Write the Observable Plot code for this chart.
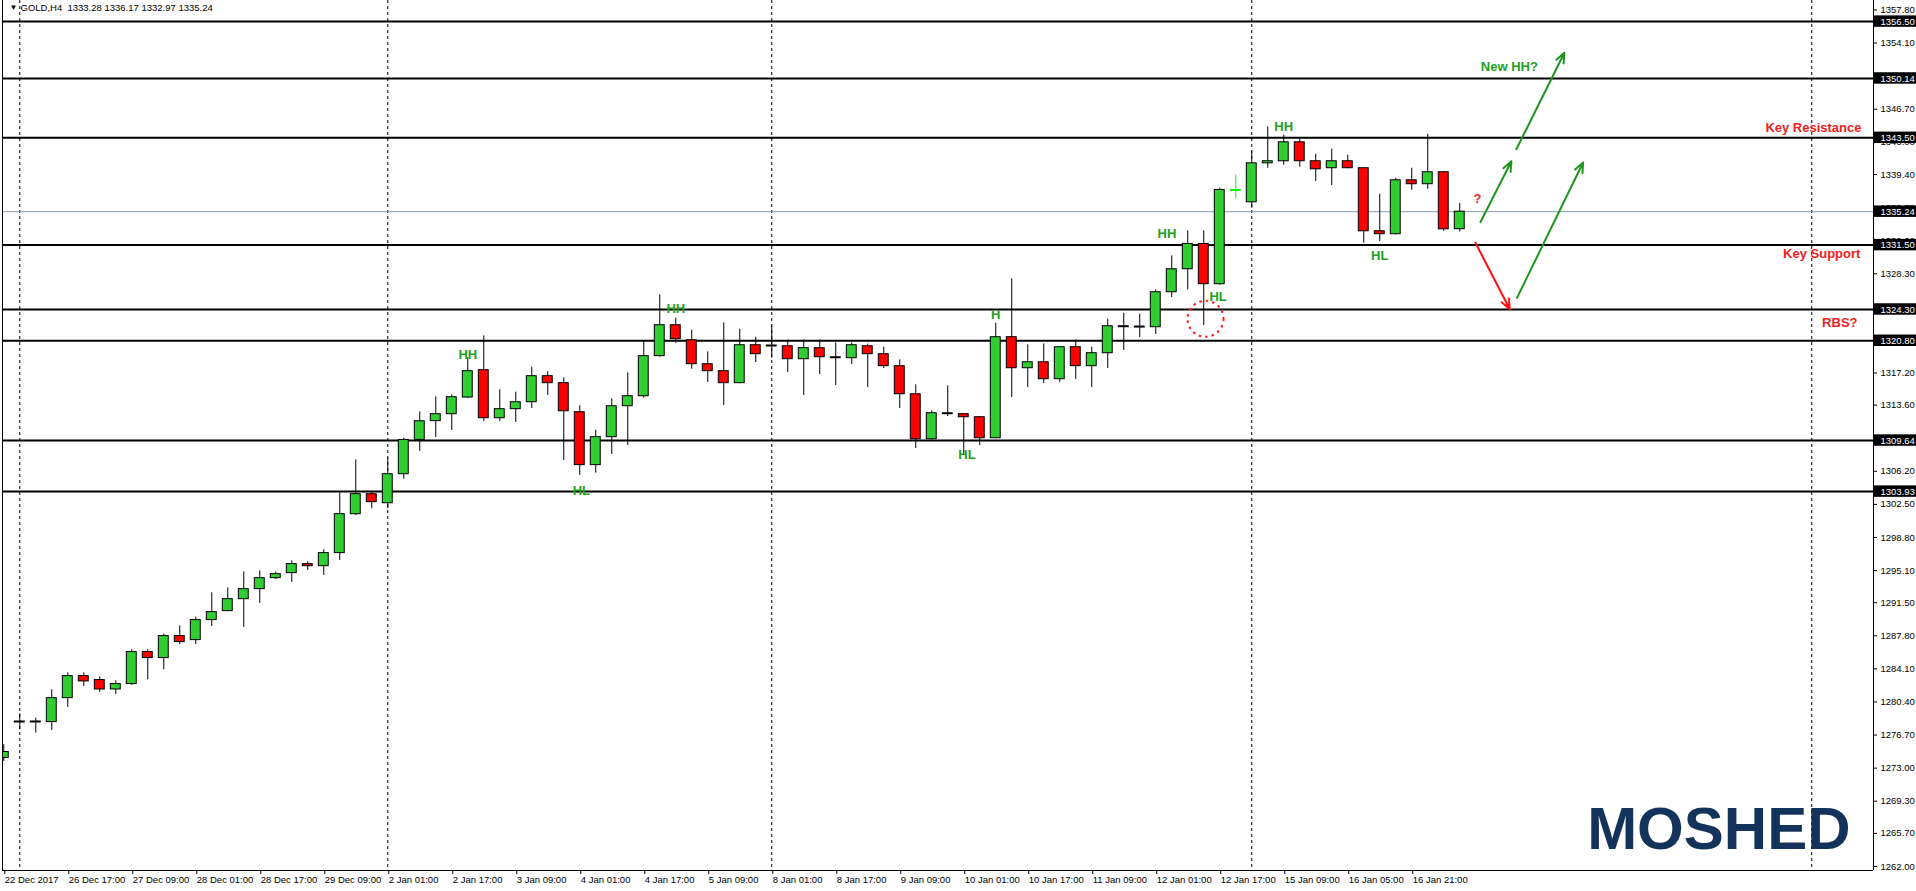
<!DOCTYPE html>
<html><head><meta charset="utf-8">
<script src="https://cdn.jsdelivr.net/npm/d3@7"></script>
<script src="https://cdn.jsdelivr.net/npm/@observablehq/plot@0.6"></script>
<style>body{margin:0;background:#fff;} svg{display:block}</style>
</head><body><div id="chart"></div>
<script>
// ---- data (bar index, prices) ----
const opens = [1274.13,1278.20,1278.21,1278.15,1280.83,1283.29,1282.85,1281.80,1282.40,1285.98,
1285.31,1287.77,1287.32,1289.56,1290.56,1291.90,1293.02,1294.25,1294.81,1295.82,
1295.59,1297.05,1301.40,1303.64,1302.63,1305.88,1309.71,1311.81,1312.59,1314.45,
1317.51,1312.14,1313.15,1313.93,1316.84,1316.06,1312.81,1306.89,1310.02,1313.48,
1314.60,1319.08,1322.54,1320.86,1318.18,1317.40,1316.06,1320.30,1320.26,1320.19,
1318.74,1319.97,1318.95,1318.85,1320.19,1319.30,1317.96,1314.82,1309.79,1312.69,
1312.59,1312.25,1309.90,1321.20,1317.73,1318.40,1316.50,1320.08,1317.96,1319.41,
1322.42,1322.36,1322.32,1326.23,1328.80,1331.63,1327.13,1337.67,1336.29,1340.65,
1340.88,1343.00,1340.88,1340.10,1340.88,1340.10,1333.05,1332.72,1338.75,1338.31,
1339.65,1333.28];
const highs = [1275.62,1279.08,1278.60,1281.77,1283.67,1283.67,1283.22,1282.77,1286.24,1286.24,
1287.99,1288.92,1289.89,1292.61,1293.17,1294.96,1295.07,1294.92,1296.19,1296.08,
1297.42,1303.79,1307.48,1303.94,1307.67,1309.90,1312.85,1314.53,1314.75,1318.89,
1321.35,1315.31,1315.05,1317.84,1317.32,1316.65,1313.52,1310.80,1314.30,1317.21,
1320.83,1325.93,1323.32,1321.98,1319.56,1322.80,1322.09,1321.20,1322.43,1320.86,
1320.90,1320.90,1320.56,1320.56,1320.42,1320.08,1318.66,1315.87,1312.96,1315.76,
1312.62,1312.28,1322.76,1327.72,1320.34,1320.45,1320.10,1320.90,1320.08,1323.21,
1323.88,1323.77,1326.49,1330.29,1333.09,1333.09,1337.86,1339.35,1342.03,1344.72,
1343.79,1343.34,1341.66,1342.22,1341.55,1340.15,1337.19,1338.98,1340.10,1343.90,
1339.70,1336.17];
const lows = [1273.75,1277.29,1276.92,1277.22,1279.79,1282.14,1281.47,1281.24,1282.25,1282.88,
1284.00,1286.83,1286.83,1288.85,1290.50,1288.73,1291.42,1294.10,1293.77,1295.11,
1294.55,1296.23,1301.25,1302.00,1302.00,1305.32,1308.42,1309.98,1310.76,1314.34,
1311.77,1311.77,1311.66,1313.22,1314.68,1307.41,1305.73,1305.99,1308.08,1309.09,
1314.38,1318.96,1320.53,1317.62,1316.13,1313.56,1316.00,1318.37,1318.85,1317.25,
1314.68,1317.02,1315.79,1318.14,1315.57,1317.70,1313.22,1308.75,1309.70,1312.33,
1308.04,1309.08,1309.85,1314.45,1315.57,1316.02,1316.13,1316.46,1315.57,1317.70,
1319.71,1321.16,1321.50,1325.63,1326.49,1322.50,1327.01,1336.67,1335.62,1340.10,
1340.43,1340.21,1338.60,1338.16,1340.05,1331.71,1331.90,1332.65,1337.64,1337.75,
1333.05,1332.97];
const closes = [1274.80,1278.23,1278.23,1280.83,1283.29,1282.70,1281.80,1282.40,1285.98,1285.31,
1287.77,1287.10,1289.56,1290.45,1291.90,1293.02,1294.25,1294.70,1295.82,1295.59,
1297.05,1301.41,1303.64,1302.75,1305.88,1309.71,1311.80,1312.59,1314.49,1317.40,
1312.14,1313.15,1313.93,1316.84,1316.06,1312.92,1306.89,1310.02,1313.48,1314.60,
1319.08,1322.54,1320.98,1318.18,1317.40,1316.06,1320.30,1319.30,1320.28,1318.74,
1319.97,1318.96,1318.97,1320.30,1319.30,1317.96,1314.82,1309.79,1312.70,1312.71,
1312.25,1309.90,1321.20,1317.73,1318.40,1316.50,1320.08,1317.96,1319.41,1322.43,
1322.44,1322.42,1326.23,1328.80,1331.63,1327.13,1337.67,1337.67,1340.65,1340.88,
1343.00,1340.88,1339.98,1340.88,1340.10,1333.05,1332.72,1338.75,1338.31,1339.65,
1333.27,1335.24];

const xTickIndex = [0,4,8,12,16,20,24,28,32,36,40,44,48,52,56,60,64,68,72,76,80,84,88];
const xTickLabels = ["22 Dec 2017","26 Dec 17:00","27 Dec 09:00","28 Dec 01:00","28 Dec 17:00","29 Dec 09:00",
"2 Jan 01:00","2 Jan 17:00","3 Jan 09:00","4 Jan 01:00","4 Jan 17:00","5 Jan 09:00","8 Jan 01:00",
"8 Jan 17:00","9 Jan 09:00","10 Jan 01:00","10 Jan 17:00","11 Jan 09:00","12 Jan 01:00","12 Jan 17:00",
"15 Jan 09:00","16 Jan 05:00","16 Jan 21:00"];
const yTicks = [1357.80,1354.10,1350.40,1346.70,1343.00,1339.40,1335.70,1332.00,1328.30,1324.60,1320.90,
1317.20,1313.60,1309.90,1306.20,1302.50,1298.80,1295.10,1291.50,1287.80,1284.10,1280.40,1276.70,
1273.00,1269.30,1265.70,1262.00];
const levels = [1356.50,1350.14,1343.50,1331.50,1324.30,1320.80,1309.64,1303.93];
const bidPrice = 1335.24;
const separators = [1,24,48,78,113];

const noteText  = ["HH","HH","HL","H","HL","HH","HL","HH","HL","?","New HH?"];
const noteIndex = [29.0,42.0,36.1,62.0,60.2,72.7,75.9,80.0,86.0,92.1,94.1];
const notePrice = [1319.18,1324.41,1303.97,1323.70,1308.08,1332.80,1325.75,1344.69,1330.26,1336.63,1351.40];
const noteKind  = ["up","up","up","up","up","up","up","up","up","down","up"];

const sideText  = ["Key Resistance","Key Support","RBS?"];
const sideIndex = [116.11,116.04,115.86];
const sidePrice = [1344.58,1330.48,1322.76];

const arrowKind = ["up","up","down","up"];
const arrowFromIndex = [92.29,94.54,91.98,94.58];
const arrowFromPrice = [1334.06,1342.23,1331.76,1325.60];
const arrowToIndex   = [94.23,97.54,94.13,98.71];
const arrowToPrice   = [1340.88,1353.01,1324.33,1340.74];

const circleIndex = [75.11];
const circlePrice = [1323.26];

// ---- layout / style ----
const X0 = -0.08, X1 = 116.86, Y0 = 1261.55, Y1 = 1358.86;
const GREEN_TXT = "#22a022", RED_TXT = "#f22020";
const font = "'Liberation Sans', Arial, sans-serif";
const AX = 9.5;

const candles = opens.map((o, i) => ({i, o, h: highs[i], l: lows[i], c: closes[i]}));
const bodies = candles.filter(d => Math.abs(d.c - d.o) >= 0.12);
const flats = candles.filter(d => Math.abs(d.c - d.o) < 0.12);
const notes = noteText.map((t, k) => ({t, x: noteIndex[k], y: notePrice[k], k: noteKind[k]}));
const sides = sideText.map((t, k) => ({t, x: sideIndex[k], y: sidePrice[k]}));
const arrows = arrowKind.map((k, j) => ({k, x1: arrowFromIndex[j], y1: arrowFromPrice[j], x2: arrowToIndex[j], y2: arrowToPrice[j]}));
const circles = circleIndex.map((x, j) => ({x, y: circlePrice[j]}));
const tags = [...levels, bidPrice];
const last = candles[candles.length - 1];
const header = `GOLD,H4  ${last.o.toFixed(2)} ${last.h.toFixed(2)} ${last.l.toFixed(2)} ${last.c.toFixed(2)}`;
const labelOf = new Map(xTickIndex.map((v, k) => [v, xTickLabels[k]]));

const chart = Plot.plot({
  width: 1916, height: 891,
  marginLeft: 2, marginRight: 43, marginTop: 0, marginBottom: 21,
  x: {domain: [X0, X1]},
  y: {domain: [Y0, Y1]},
  color: {type: "identity"},
  style: {fontFamily: font, fontSize: AX + "px", background: "#fff", color: "#000"},
  marks: [
    Plot.ruleX(separators, {stroke: "#000", strokeWidth: 1, strokeDasharray: "3,3"}),
    Plot.ruleY(levels, {stroke: "#000", strokeWidth: 2}),
    Plot.ruleY([bidPrice], {stroke: "#8c9aa8", strokeWidth: 1}),
    Plot.ruleX(candles, {x: "i", y1: "l", y2: "h", stroke: d => d.o === d.c ? "#00ff00" : "#000", strokeWidth: 1, clip: true}),
    Plot.rect(bodies, {x1: d => d.i - 0.31, x2: d => d.i + 0.31, y1: "o", y2: "c",
      fill: d => d.c > d.o ? "#32CD32" : "#FF0000", stroke: "#000", strokeWidth: 1, clip: true}),
    Plot.ruleY(flats, {y: d => (d.o + d.c) / 2, x1: d => d.i - 0.34, x2: d => d.i + 0.34,
      stroke: d => d.o === d.c ? "#00ff00" : "#000", strokeWidth: 2, clip: true}),
    Plot.axisX({ticks: xTickIndex, tickFormat: v => labelOf.get(v), tickSize: 4, tickPadding: 2,
      textAnchor: "start", dx: 1, label: null, fontSize: AX}),
    Plot.axisY({anchor: "right", ticks: yTicks, tickFormat: v => v.toFixed(2), tickSize: 3, tickPadding: 4,
      label: null, fontSize: AX}),
    Plot.ruleX([X0, X1], {stroke: "#000", strokeWidth: 1}),
    Plot.ruleY([Y0], {stroke: "#000", strokeWidth: 1}),
    Plot.rect(tags, {x1: () => X1 + 0.06, x2: () => X1 + 2.8, y1: d => d - 0.64, y2: d => d + 0.64, fill: "#000"}),
    Plot.text(tags, {x: () => X1, y: d => d, text: d => d.toFixed(2), dx: 7, textAnchor: "start", fill: "#fff", fontSize: AX}),
    Plot.text(notes, {x: "x", y: "y", text: "t", fill: d => d.k === "up" ? GREEN_TXT : RED_TXT,
      fontSize: 13, fontWeight: "bold", fontFamily: font}),
    Plot.text(sides, {x: "x", y: "y", text: "t", fill: RED_TXT, textAnchor: "end",
      fontSize: 13, fontWeight: "bold", fontFamily: font}),
    Plot.arrow(arrows, {x1: "x1", y1: "y1", x2: "x2", y2: "y2",
      stroke: d => d.k === "up" ? "#1e961e" : "#ff1010", strokeWidth: 2, headLength: 8, headAngle: 45}),
    Plot.dot(circles, {x: "x", y: "y", r: 18, fill: "none", stroke: "#ff2020", strokeWidth: 2, strokeDasharray: "2.5,4"}),
    Plot.text(["▼"], {frameAnchor: "top-left", dx: 7, dy: 7, lineAnchor: "middle", textAnchor: "start", fontSize: 8, fill: "#000"}),
    Plot.text([header], {frameAnchor: "top-left", dx: 18, dy: 7, lineAnchor: "middle", textAnchor: "start", fontSize: AX, fill: "#000"}),
    Plot.text(["MOSHED"], {frameAnchor: "bottom-right", dx: -23, dy: -22, textAnchor: "end", lineAnchor: "bottom",
      fontSize: 60, fontWeight: "bold", fill: "#14335a", fontFamily: font})
  ]
});
document.getElementById("chart").append(chart);
</script>
</body></html>
